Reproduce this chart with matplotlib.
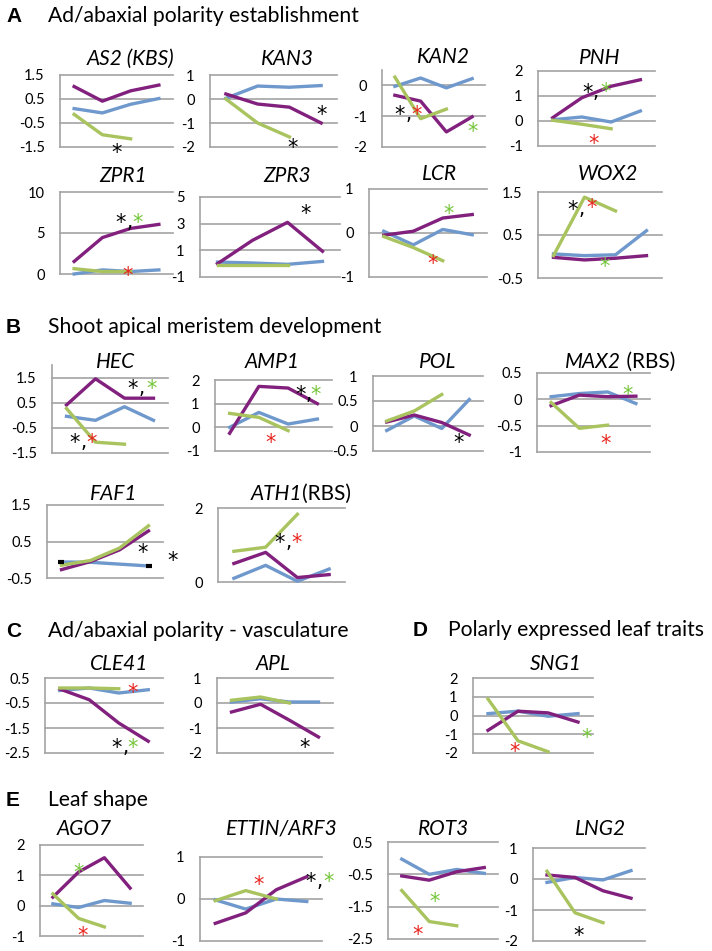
import matplotlib.pyplot as plt

plt.rcParams['font.family'] = ['Lato', 'DejaVu Sans']

W, H = 712, 951
fig = plt.figure(figsize=(W / 100, H / 100), dpi=100)

blue_c = '#6F98CC'
purple_c = '#82207E'
green_c = '#A9C45F'
grid_c = '#A3A3A3'
red_s = '#E8251F'
green_s = '#74C63A'

steps = [0, 1, 2, 3]

# expression profiles (blue, purple, green)
AS2 = dict(blue=[0.10, -0.08, 0.28, 0.52], purple=[1.02, 0.41, 0.84, 1.08], green=[-0.14, -0.99, -1.16])
KAN3 = dict(blue=[0.03, 0.54, 0.49, 0.56], purple=[0.21, -0.21, -0.34, -1.0], green=[0.0, -1.0, -1.58])
KAN2 = dict(blue=[-0.03, 0.24, -0.08, 0.22], purple=[-0.32, -0.51, -1.51, -1.02], green=[0.27, -1.08, -0.77])
PNH = dict(blue=[0.05, 0.16, -0.04, 0.4], purple=[0.13, 0.93, 1.39, 1.65], green=[0.03, -0.13, -0.31])
ZPR1 = dict(blue=[0.0, 0.5, 0.3, 0.5], purple=[1.53, 4.44, 5.56, 6.05], green=[0.65, 0.3, 0.3])
ZPR3 = dict(blue=[0.12, 0.05, -0.05, 0.17], purple=[0.0, 1.75, 3.1, 0.93], green=[-0.12, -0.12, -0.12])
LCR = dict(blue=[0.04, -0.27, 0.08, -0.04], purple=[-0.05, 0.04, 0.34, 0.42], green=[-0.08, -0.33, -0.63])
WOX2 = dict(blue=[0.06, 0.02, 0.04, 0.6], purple=[-0.02, -0.08, -0.04, 0.02], green=[0.02, 1.38, 1.06])
HEC = dict(blue=[-0.04, -0.2, 0.34, -0.2], purple=[0.41, 1.45, 0.68, 0.68], green=[0.27, -1.07, -1.15])
AMP1 = dict(blue=[0.0, 0.63, 0.14, 0.35], purple=[-0.25, 1.73, 1.66, 1.0], green=[0.59, 0.42, -0.14])
POL = dict(blue=[-0.09, 0.2, -0.05, 0.53], purple=[0.08, 0.22, 0.07, -0.18], green=[0.1, 0.3, 0.63])
MAX2 = dict(blue=[0.05, 0.11, 0.14, -0.08], purple=[-0.12, 0.08, 0.05, 0.06], green=[-0.06, -0.55, -0.49])
FAF1 = dict(blue=[-0.06, -0.07, -0.12, -0.17], purple=[-0.27, -0.05, 0.27, 0.79], green=[-0.15, -0.02, 0.32, 0.93])
ATH1 = dict(blue=[0.1, 0.45, 0.02, 0.35], purple=[0.5, 0.8, 0.12, 0.2], green=[0.83, 0.94, 1.83])
CLE41 = dict(blue=[0.0, 0.1, -0.1, 0.03], purple=[0.06, -0.37, -1.3, -2.03], green=[0.1, 0.1, 0.07])
APL = dict(blue=[0.04, 0.17, 0.04, 0.04], purple=[-0.36, -0.05, -0.69, -1.36], green=[0.11, 0.24, 0.0])
SNG1 = dict(blue=[0.1, 0.23, -0.04, 0.1], purple=[-0.79, 0.23, 0.14, -0.35], green=[0.88, -1.35, -1.93])
AGO7 = dict(blue=[0.06, -0.06, 0.17, 0.08], purple=[0.28, 1.11, 1.58, 0.58], green=[0.39, -0.42, -0.7])
ETTIN = dict(blue=[-0.02, -0.24, 0.0, -0.06], purple=[-0.58, -0.33, 0.22, 0.53], green=[-0.04, 0.2, 0.0])
ROT3 = dict(blue=[-0.03, -0.5, -0.35, -0.47], purple=[-0.55, -0.68, -0.42, -0.29], green=[-1.0, -1.96, -2.09])
LNG2 = dict(blue=[-0.11, 0.05, -0.03, 0.27], purple=[0.13, 0.05, -0.38, -0.62], green=[0.25, -1.09, -1.41])

# significance marks (x, y in data units, text, colour)
k, r, g = 'k', red_s, green_s
AS2_s = [(1.5, -1.5, '*', k)]
KAN3_s = [(3.0, -0.4, '*', k), (2.1, -1.8, '*', k)]
KAN2_s = [(0.2, -0.77, '*,', k), (0.86, -0.75, '*', r), (3.0, -1.3, '*', g)]
PNH_s = [(1.2, 1.36, '*,', k), (1.8, 1.4, '*', g), (1.4, -0.68, '*', r)]
ZPR1_s = [(1.66, 7.0, '*,', k), (2.26, 7.0, '*', g), (1.9, 0.5, '*', r)]
ZPR3_s = [(2.53, 4.2, '*', k)]
LCR_s = [(2.2, 0.57, '*', g), (1.67, -0.57, '*', r)]
WOX2_s = [(0.63, 1.22, '*,', k), (1.24, 1.27, '*', r), (1.66, -0.1, '*', g)]
HEC_s = [(2.29, 1.28, '*,', k), (2.95, 1.28, '*', g), (0.29, -0.86, '*,', k), (0.88, -0.86, '*', r)]
AMP1_s = [(2.41, 1.62, '*,', k), (2.95, 1.62, '*', g), (1.41, -0.41, '*', r)]
POL_s = [(2.63, -0.22, '*', k)]
MAX2_s = [(2.69, 0.2, '*', g), (1.91, -0.72, '*', r)]
FAF1_s = [(2.81, 0.35, '*', k), (3.84, 0.13, '*', k)]
ATH1_s = [(1.45, 1.22, '*,', k), (1.99, 1.22, '*', r)]
CLE41_s = [(2.48, 0.14, '*', r), (1.94, -2.06, '*,', k), (2.48, -2.06, '*', g)]
APL_s = [(2.53, -1.56, '*', k)]
SNG1_s = [(0.9, -1.63, '*', r), (3.3, -0.88, '*', g)]
AGO7_s = [(1.0, 1.27, '*', g), (1.17, -0.8, '*', r)]
ETTIN_s = [(1.43, 0.49, '*', r), (3.14, 0.56, '*,', k), (3.7, 0.56, '*', g)]
ROT3_s = [(1.21, -1.17, '*', g), (0.59, -2.19, '*', r)]
LNG2_s = [(1.14, -1.65, '*', k)]

# data, box (left, right, top, bottom px), ylim, ticks, italic title, roman title, title x, title baseline, marks
panels = [
    (AS2, (60, 173, 75, 147), (-1.5, 1.5), [-1.5, -0.5, 0.5, 1.5], 'AS2 (KBS)', '', 130, 65, AS2_s),
    (KAN3, (210, 337, 75, 147), (-2, 1), [-2, -1, 0, 1], 'KAN3', '', 287, 65, KAN3_s),
    (KAN2, (382, 485, 70, 147), (-2, 0.5), [-2, -1, 0], 'KAN2', '', 443, 63, KAN2_s),
    (PNH, (538, 655, 71, 146), (-1, 2), [-1, 0, 1, 2], 'PNH', '', 600, 64, PNH_s),
    (ZPR1, (60, 173, 192, 274), (0, 10), [0, 5, 10], 'ZPR1', '', 123, 182, ZPR1_s),
    (ZPR3, (200, 340, 197, 277), (-1, 5), [-1, 1, 3, 5], 'ZPR3', '', 287, 182, ZPR3_s),
    (LCR, (369, 487, 189, 277), (-1, 1), [-1, 0, 1], 'LCR', '', 439, 180, LCR_s),
    (WOX2, (538, 662, 192, 278), (-0.5, 1.5), [-0.5, 0.5, 1.5], 'WOX2', '', 608, 180, WOX2_s),
    (HEC, (52, 168, 365, 453), (-1.5, 2), [-1.5, -0.5, 0.5, 1.5], 'HEC', '', 116, 368, HEC_s),
    (AMP1, (215, 332, 380, 451), (-1, 2), [-1, 0, 1, 2], 'AMP1', '', 272, 368, AMP1_s),
    (POL, (373, 483, 376, 451), (-0.5, 1), [-0.5, 0, 0.5, 1], 'POL', '', 438, 368, POL_s),
    (MAX2, (537, 650, 373, 452), (-1, 0.5), [-1, -0.5, 0, 0.5], 'MAX2', ' (RBS)', 621, 368, MAX2_s),
    (FAF1, (47, 163, 505, 578), (-0.5, 1.5), [-0.5, 0.5, 1.5], 'FAF1', '', 114, 500, FAF1_s),
    (ATH1, (218, 345, 508, 582), (0, 2), [0, 2], 'ATH1', '(RBS)', 302, 500, ATH1_s),
    (CLE41, (45, 163, 678, 753), (-2.5, 0.5), [-2.5, -1.5, -0.5, 0.5], 'CLE41', '', 119, 670, CLE41_s),
    (APL, (217, 333, 678, 753), (-2, 1), [-2, -1, 0, 1], 'APL', '', 273, 670, APL_s),
    (SNG1, (473, 593, 678, 753), (-2, 2), [-2, -1, 0, 1, 2], 'SNG1', '', 556, 670, SNG1_s),
    (AGO7, (40, 143, 845, 936), (-1, 2), [-1, 0, 1, 2], 'AGO7', '', 84, 835, AGO7_s),
    (ETTIN, (200, 322, 857, 941), (-1, 1), [-1, 0, 1], 'ETTIN/ARF3', '', 282, 835, ETTIN_s),
    (ROT3, (388, 498, 842, 939), (-2.5, 0.5), [-2.5, -1.5, -0.5, 0.5], 'ROT3', '', 444, 835, ROT3_s),
    (LNG2, (533, 645, 848, 941), (-2, 1), [-2, -1, 0, 1], 'LNG2', '', 601, 835, LNG2_s),
]

headings = [
    ('A', 'Ad/abaxial polarity establishment', 6, 48, 22),
    ('B', 'Shoot apical meristem development', 6, 48, 333),
    ('C', 'Ad/abaxial polarity - vasculature', 6, 48, 637),
    ('D', 'Polarly expressed leaf traits', 413, 448, 636),
    ('E', 'Leaf shape', 6, 48, 806),
]

STAR_FS = 15


def px(x, y):
    return x / W, 1 - y / H


def draw_panel(data, box, ylim, ticks, it, rm, tx, ty, marks):
    left, right, top, bottom = box
    ax = fig.add_axes([left / W, 1 - bottom / H, (right - left) / W, (bottom - top) / H])
    for t in ticks:
        ax.axhline(t, color=grid_c, lw=1.2, zorder=0, clip_on=False)
    for key, col in (('blue', blue_c), ('purple', purple_c), ('green', green_c)):
        vals = data[key]
        ax.plot(steps[:len(vals)], vals, color=col, lw=2.4, clip_on=False, zorder=2)
    if data is FAF1:
        b = data['blue']
        ax.plot([steps[0], steps[3]], [b[0], b[3]], ls='none', marker='_',
                ms=4, mew=3, color='k', zorder=3, clip_on=False)
    for x, y, s, col in marks:
        ax.annotate('*', (x, y), xytext=(0, -0.59 * STAR_FS), textcoords='offset points',
                    ha='center', va='baseline', fontsize=STAR_FS, color=col,
                    family='DejaVu Sans', annotation_clip=False)
        if s == '*,':
            ax.annotate(',', (x, y), xytext=(6, -8), textcoords='offset points',
                        ha='center', va='baseline', fontsize=14, color=col,
                        family='DejaVu Sans', annotation_clip=False)
    ax.set_xlim(-0.5, 3.5)
    ax.set_ylim(*ylim)
    ax.set_xticks([])
    ax.set_yticks(ticks)
    ax.set_yticklabels([f'{t:g}' for t in ticks])
    ax.tick_params(axis='y', length=0, pad=11, labelsize=10.5)
    for sp in ('top', 'right', 'bottom'):
        ax.spines[sp].set_visible(False)
    ax.spines['left'].set_color(grid_c)
    ax.spines['left'].set_linewidth(1.2)
    ax.patch.set_visible(False)

    if rm:
        fig.text(*px(tx, ty), it, style='italic', fontsize=15, ha='right', va='baseline')
        fig.text(*px(tx, ty), rm, fontsize=15, ha='left', va='baseline')
    else:
        fig.text(*px(tx, ty), it, style='italic', fontsize=15, ha='center', va='baseline')


for p in panels:
    draw_panel(*p)

for letter, text, lx, x, y in headings:
    fig.text(*px(lx, y), letter, family='Liberation Sans', weight='bold', fontsize=15, va='baseline')
    fig.text(*px(x, y), text, fontsize=15.2, va='baseline')

fig.savefig('out.png', dpi=100)
